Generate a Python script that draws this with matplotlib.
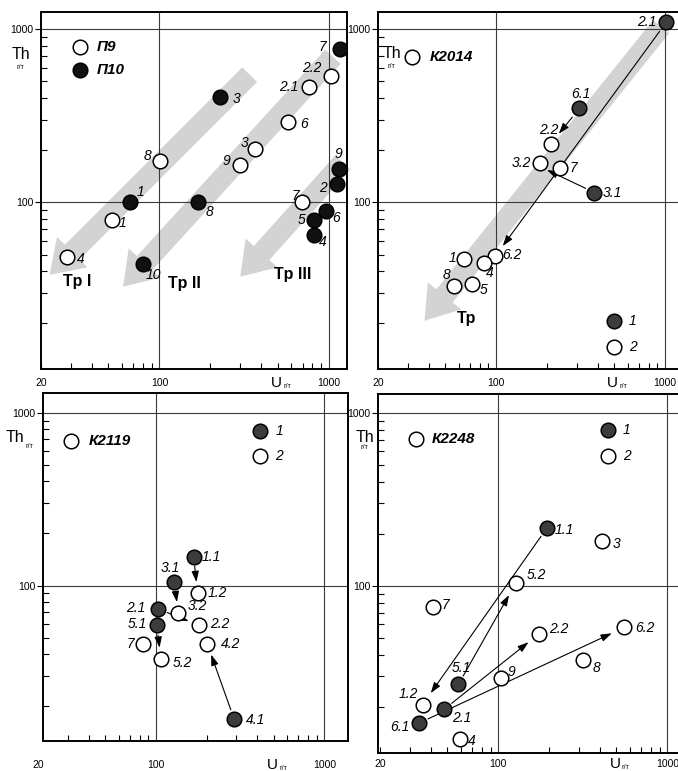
import matplotlib
matplotlib.use("Agg")
import matplotlib.pyplot as plt
from matplotlib.ticker import LogLocator, NullFormatter, FixedLocator, FixedFormatter

plt.rcParams['font.family'] = ['Liberation Sans', 'DejaVu Sans']

# --------------------------------------------
# Data (U, Th in g/t)
# --------------------------------------------

# panel 1: П9 (open) and П10 (filled)
p9_lab = ["8", "1", "4", "9", "3", "6", "2.1", "2.2", "7"]
p9_u = [101, 52.5, 28.3, 297, 368, 574, 762, 1024, 699]
p9_th = [173, 79.4, 48.3, 164, 204, 292, 462, 535, 100]

p10_lab = ["7", "3", "1", "8", "10", "9", "2", "6", "5", "4"]
p10_u = [1162, 229, 67.3, 170, 80.4, 1146, 1120, 968, 815, 815]
p10_th = [770, 404, 100, 100, 44.2, 157, 128, 88.7, 78.7, 65.1]

# panel 2: K2014
k2014_1_lab = ["2.1", "6.1", "3.1"]
k2014_1_u = [1014, 311, 382]
k2014_1_th = [1097, 349, 114]
k2014_2_lab = ["2.2", "3.2", "7", "6.2", "1", "4", "8", "5"]
k2014_2_u = [211, 182, 240, 99, 65, 84.6, 56, 71.8]
k2014_2_th = [219, 169, 159, 48.9, 46.8, 44.4, 32.8, 34]
k2014_links = [("2.1", "6.2"), ("6.1", "2.2")]
k2014_free = [((382, 114), (200, 154))]

# panel 3: K2119
k2119_1_lab = ["1.1", "3.1", "2.1", "5.1", "4.1"]
k2119_1_u = [167, 128, 103, 101, 291]
k2119_1_th = [147, 105, 73.3, 58.8, 16.9]
k2119_2_lab = ["1.2", "3.2", "2.2", "4.2", "7", "5.2"]
k2119_2_u = [177, 136, 180, 202, 84, 107]
k2119_2_th = [90.4, 69.2, 58.8, 45.8, 45.8, 37.7]
k2119_links = [("1.1", "1.2"), ("3.1", "3.2"), ("2.1", "2.2"), ("5.1", "5.2"), ("4.1", "4.2")]

# panel 4: K2248
k2248_1_lab = ["1.1", "5.1", "2.1", "6.1"]
k2248_1_u = [193, 58, 47.7, 34]
k2248_1_th = [215, 26.9, 19.3, 16.1]
k2248_2_lab = ["3", "5.2", "7", "2.2", "6.2", "8", "9", "1.2", "4"]
k2248_2_u = [409, 127, 41.2, 175, 557, 318, 103, 35.7, 59.3]
k2248_2_th = [182, 104, 75, 53, 57.5, 37.2, 29.2, 20.6, 13.1]
k2248_links = [("1.1", "1.2"), ("5.1", "5.2"), ("2.1", "2.2"), ("6.1", "6.2")]

# broad grey trend arrows (tail, tip)
tp_p1 = [((341, 547), (22.5, 38.2)), ((1057, 695), (61, 32.6)), ((1210, 170), (300, 37.2))]
tp_p1_txt = [("Tp I", 32.9, 34.9), ("Tp II", 140, 34.2), ("Tp III", 615, 38.2)]
tp_p2 = [((947, 1036), (37.7, 20.7))]
tp_p2_txt = [("Tp", 66.4, 21.3)]

# --------------------------------------------
# label offsets (pixels, +y up)
# --------------------------------------------

off_p9 = {"8": (-13, 5), "1": (11, -3), "4": (14, -2), "9": (-13, 4), "3": (-11, 6),
          "6": (16, -2), "2.1": (-20, 0), "2.2": (-19, 8), "7": (-7, 6)}
off_p10 = {"7": (-17, 2), "3": (16, -2), "1": (10, 10), "8": (11, -10), "10": (10, -11),
           "9": (0, 15), "2": (-14, -4), "6": (10, -7), "5": (-12, 0), "4": (9, -7)}
off_k2014 = {"2.1": (-19, 0), "6.1": (2, 14), "3.1": (18, 0), "2.2": (-2, 14), "3.2": (-19, 0),
             "7": (13, 0), "6.2": (17, 1), "1": (-12, 1), "4": (6, -10), "8": (-7, 11), "5": (12, -6)}
off_k2119 = {"1.1": (18, 0), "3.1": (-4, 14), "2.1": (-22, 1), "5.1": (-19, 1), "4.1": (22, -1),
             "1.2": (20, 0), "3.2": (19, 7), "2.2": (21, 1), "4.2": (23, 0), "7": (-13, 0), "5.2": (21, -4)}
off_k2248 = {"1.1": (18, -2), "5.1": (3, 16), "2.1": (18, -9), "6.1": (-19, -4), "3": (15, -3),
             "5.2": (21, 8), "7": (12, 2), "2.2": (19, 5), "6.2": (21, -1), "8": (13, -8),
             "9": (11, 6), "1.2": (-14, 11), "4": (12, -2)}

W, H = 678, 771
PT = 0.72  # points per pixel at 100 dpi

fig = plt.figure(figsize=(W / 100, H / 100), dpi=100)


def place(left, top, right, bottom):
    return fig.add_axes([left / W, 1 - bottom / H, (right - left) / W, (bottom - top) / H])


def setup(ax, xlim, ylim, xlab_pad):
    ax.set_xscale("log")
    ax.set_yscale("log")
    ax.set_xlim(*xlim)
    ax.set_ylim(*ylim)
    for s in ax.spines.values():
        s.set_linewidth(1.4)
    ax.xaxis.set_major_locator(FixedLocator([100, 1000]))
    ax.xaxis.set_major_formatter(NullFormatter())
    ax.xaxis.set_minor_locator(LogLocator(base=10, subs=range(2, 10), numticks=20))
    ax.xaxis.set_minor_formatter(NullFormatter())
    ax.yaxis.set_major_locator(FixedLocator([100, 1000]))
    ax.yaxis.set_major_formatter(FixedFormatter(["100", "1000"]))
    ax.yaxis.set_minor_locator(LogLocator(base=10, subs=range(2, 10), numticks=20))
    ax.yaxis.set_minor_formatter(NullFormatter())
    ax.tick_params(which="minor", direction="in", length=4, width=0.8, top=False, right=False)
    ax.tick_params(axis="y", which="major", direction="out", length=4, width=0.8, pad=1.5,
                   labelsize=7.5, right=False)
    ax.tick_params(axis="x", which="major", length=0, top=False)
    for v in (100, 1000):
        ax.axhline(v, color="#3a3a3a", lw=0.8, zorder=1.5)
        ax.axvline(v, color="#3a3a3a", lw=0.8, zorder=1.5)
    tr = ax.get_xaxis_transform()
    for v, t in [(20, "20"), (100, "100"), (1000, "1000")]:
        ax.annotate(t, xy=(v, 0), xycoords=tr, xytext=(0, -xlab_pad * PT), textcoords="offset points",
                    ha="center", va="center", fontsize=7.5, annotation_clip=False)
    ax.annotate("U", xy=(490, 0), xycoords=tr, xytext=(0, -xlab_pad * PT), textcoords="offset points",
                ha="center", va="center", fontsize=11, annotation_clip=False)
    ax.annotate("г/т", xy=(490, 0), xycoords=tr, xytext=(5, -xlab_pad * PT - 2.5),
                textcoords="offset points", ha="left", va="center", fontsize=5, annotation_clip=False)


def th_label(ax, x, y, sx, sy):
    ax.text(x, y, "Th", transform=ax.transAxes, fontsize=11.5, ha="center", va="center")
    ax.text(sx, sy, "г/т", transform=ax.transAxes, fontsize=5, ha="center", va="center")


def points(ax, u, th, labs, offs, face):
    ax.plot(u, th, "o", ms=10.5, mfc=face, mec="black", mew=1.1, ls="none", zorder=4)
    for x, y, t in zip(u, th, labs):
        dx, dy = offs.get(t, (12, 0))
        ax.annotate(t, (x, y), xytext=(dx * PT, dy * PT), textcoords="offset points",
                    ha="center", va="center", fontsize=10, style="italic", zorder=5)


def grey_arrow(ax, tail, tip):
    ax.annotate("", xy=tip, xytext=tail,
                arrowprops=dict(arrowstyle="simple,tail_width=1.5,head_width=3.1,head_length=2.3",
                                fc="#d3d3d3", ec="none", mutation_scale=10, shrinkA=0, shrinkB=0),
                zorder=1)


def link(ax, p0, p1, sa=7, sb=9):
    ax.annotate("", xy=p1, xytext=p0,
                arrowprops=dict(arrowstyle="-|>,head_length=0.65,head_width=0.22", color="black",
                                lw=0.8, mutation_scale=10, shrinkA=sa, shrinkB=sb),
                zorder=3)


def legend_sym(ax, x, y, face, text, tx, bold=False, fs=10):
    ax.plot([x], [y], "o", ms=10.5, mfc=face, mec="black", mew=1.1, transform=ax.transAxes,
            zorder=4, clip_on=False)
    ax.text(tx, y, text, transform=ax.transAxes, ha="left", va="center", fontsize=fs,
            style="italic", fontweight="bold" if bold else "normal")


dark = "#3c3c3c"

# --------------------------------------------
# Panel 1: П9 / П10
# --------------------------------------------

ax1 = place(41, 12, 347, 369)
setup(ax1, (20, 1280), (10.9, 1260), 14)
th_label(ax1, -0.066, 0.88, -0.066, 0.845)
for tail, tip in tp_p1:
    grey_arrow(ax1, tail, tip)
for t, x, y in tp_p1_txt:
    ax1.text(x, y, t, fontsize=11.5, fontweight="bold", ha="center", va="center", zorder=5)
points(ax1, p9_u, p9_th, p9_lab, off_p9, "white")
points(ax1, p10_u, p10_th, p10_lab, off_p10, "#111111")
legend_sym(ax1, 0.127, 0.903, "white", "П9", 0.182, bold=True, fs=11)
legend_sym(ax1, 0.127, 0.838, "#111111", "П10", 0.182, bold=True, fs=11)

# --------------------------------------------
# Panel 2: K2014
# --------------------------------------------

ax2 = place(378, 12, 682, 369)
setup(ax2, (20, 1259), (10.9, 1260), 14)
th_label(ax2, 0.045, 0.885, 0.045, 0.848)
for tail, tip in tp_p2:
    grey_arrow(ax2, tail, tip)
for t, x, y in tp_p2_txt:
    ax2.text(x, y, t, fontsize=11.5, fontweight="bold", ha="center", va="center", zorder=5)
pos2 = {t: (x, y) for t, x, y in zip(k2014_1_lab + k2014_2_lab, k2014_1_u + k2014_2_u,
                                       k2014_1_th + k2014_2_th)}
for a, b in k2014_links:
    link(ax2, pos2[a], pos2[b], sa=8, sb=9)
for p0, p1 in k2014_free:
    link(ax2, p0, p1, sa=7, sb=0)
points(ax2, k2014_1_u, k2014_1_th, k2014_1_lab, off_k2014, dark)
points(ax2, k2014_2_u, k2014_2_th, k2014_2_lab, off_k2014, "white")
legend_sym(ax2, 0.111, 0.875, "white", "К2014", 0.171, bold=True, fs=11)
legend_sym(ax2, 0.777, 0.135, dark, "1", 0.825)
legend_sym(ax2, 0.777, 0.0625, "white", "2", 0.825)

# --------------------------------------------
# Panel 3: K2119
# --------------------------------------------

ax3 = place(43, 393, 348, 741)
setup(ax3, (21.3, 1383), (12.6, 1300), 24)
th_label(ax3, -0.092, 0.871, -0.045, 0.845)
pos3 = {t: (x, y) for t, x, y in zip(k2119_1_lab + k2119_2_lab, k2119_1_u + k2119_2_u,
                                       k2119_1_th + k2119_2_th)}
for a, b in k2119_links:
    link(ax3, pos3[a], pos3[b], sa=7, sb=8)
points(ax3, k2119_1_u, k2119_1_th, k2119_1_lab, off_k2119, dark)
points(ax3, k2119_2_u, k2119_2_th, k2119_2_lab, off_k2119, "white")
legend_sym(ax3, 0.092, 0.862, "white", "К2119", 0.149, bold=True, fs=11)
legend_sym(ax3, 0.711, 0.892, dark, "1", 0.762)
legend_sym(ax3, 0.711, 0.820, "white", "2", 0.762)

# --------------------------------------------
# Panel 4: K2248
# --------------------------------------------

ax4 = place(378, 394, 682, 753)
setup(ax4, (19.4, 1222), (10.8, 1288), 11)
th_label(ax4, -0.043, 0.88, -0.043, 0.85)
pos4 = {t: (x, y) for t, x, y in zip(k2248_1_lab + k2248_2_lab, k2248_1_u + k2248_2_u,
                                       k2248_1_th + k2248_2_th)}
for a, b in k2248_links:
    link(ax4, pos4[a], pos4[b], sa=7, sb=10)
points(ax4, k2248_1_u, k2248_1_th, k2248_1_lab, off_k2248, dark)
points(ax4, k2248_2_u, k2248_2_th, k2248_2_lab, off_k2248, "white")
legend_sym(ax4, 0.124, 0.874, "white", "К2248", 0.177, bold=True, fs=11)
legend_sym(ax4, 0.758, 0.90, dark, "1", 0.806)
legend_sym(ax4, 0.758, 0.828, "white", "2", 0.806)

fig.savefig("out.png", dpi=100)
